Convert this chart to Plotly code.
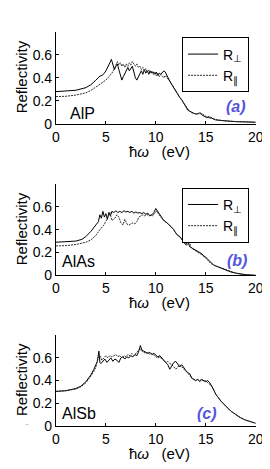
import plotly.graph_objects as go

# ---------------- data ----------------
# Panel (a) AlP
alp_perp_E = [0, 1, 2, 3, 3.5, 4, 4.2, 4.4, 4.6, 4.8, 5.0, 5.2, 5.4, 5.55, 5.7, 5.85, 6.0, 6.15, 6.3, 6.45, 6.6, 6.75, 6.9, 7.05, 7.2, 7.35, 7.5, 7.65, 7.8, 7.95, 8.1, 8.25, 8.4, 8.55, 8.7, 8.85, 9.0, 9.15, 9.3, 9.45, 9.6, 9.75, 9.9, 10.05, 10.2, 10.35, 10.5, 10.65, 10.8, 10.95, 11.1, 11.25, 11.4, 11.6, 11.8, 12.0, 12.2, 12.4, 12.6, 12.8, 13.0, 13.2, 13.4, 13.6, 13.8, 14.0, 14.2, 14.4, 14.6, 14.8, 15.0, 15.3, 15.6, 16, 16.5, 17, 18, 19, 20]
alp_perp_R = [0.28, 0.283, 0.292, 0.315, 0.34, 0.38, 0.40, 0.415, 0.42, 0.435, 0.46, 0.49, 0.53, 0.56, 0.52, 0.47, 0.50, 0.52, 0.47, 0.42, 0.38, 0.41, 0.44, 0.47, 0.49, 0.46, 0.48, 0.50, 0.45, 0.40, 0.38, 0.41, 0.44, 0.46, 0.43, 0.47, 0.44, 0.46, 0.43, 0.46, 0.44, 0.45, 0.43, 0.45, 0.42, 0.44, 0.43, 0.45, 0.46, 0.45, 0.42, 0.40, 0.37, 0.34, 0.31, 0.28, 0.25, 0.23, 0.21, 0.18, 0.15, 0.12, 0.11, 0.10, 0.09, 0.085, 0.09, 0.095, 0.08, 0.07, 0.06, 0.055, 0.05, 0.035, 0.03, 0.025, 0.02, 0.018, 0.015]
alp_par_E = [0, 1, 2, 3, 3.5, 4, 4.5, 5.0, 5.3, 5.6, 5.8, 6.0, 6.15, 6.3, 6.45, 6.6, 6.75, 6.9, 7.05, 7.2, 7.35, 7.5, 7.65, 7.8, 7.95, 8.1, 8.25, 8.4, 8.55, 8.7, 8.85, 9.0, 9.15, 9.3, 9.45, 9.6, 9.75, 9.9, 10.05, 10.2, 10.35, 10.5, 10.65, 10.8, 10.95, 11.1, 11.3, 11.5, 11.7, 11.9, 12.1, 12.3, 12.5, 12.7, 12.9, 13.1, 13.3, 13.5, 13.7, 13.9, 14.1, 14.3, 14.5, 14.7, 14.9, 15.1, 15.3, 15.5, 15.8, 16.2, 17, 18, 19, 20]
alp_par_R = [0.237, 0.24, 0.25, 0.27, 0.29, 0.32, 0.35, 0.38, 0.41, 0.44, 0.47, 0.52, 0.54, 0.51, 0.53, 0.50, 0.52, 0.49, 0.52, 0.50, 0.53, 0.51, 0.54, 0.52, 0.50, 0.52, 0.49, 0.50, 0.47, 0.49, 0.46, 0.48, 0.45, 0.47, 0.44, 0.46, 0.43, 0.45, 0.42, 0.44, 0.41, 0.43, 0.41, 0.40, 0.42, 0.40, 0.38, 0.36, 0.33, 0.30, 0.27, 0.25, 0.22, 0.19, 0.17, 0.14, 0.12, 0.10, 0.095, 0.09, 0.085, 0.09, 0.095, 0.085, 0.07, 0.06, 0.065, 0.06, 0.045, 0.035, 0.025, 0.02, 0.018, 0.015]

# Panel (b) AlAs
alas_perp_E = [0, 1, 2, 2.6, 3.0, 3.5, 3.9, 4.1, 4.25, 4.4, 4.55, 4.7, 4.85, 5.0, 5.15, 5.3, 5.45, 5.6, 5.8, 6.0, 6.2, 6.4, 6.6, 6.8, 7.0, 7.2, 7.4, 7.6, 7.8, 8.0, 8.2, 8.4, 8.6, 8.8, 9.0, 9.2, 9.4, 9.6, 9.8, 10.0, 10.2, 10.4, 10.6, 10.8, 11.0, 11.2, 11.4, 11.6, 11.8, 12.0, 12.2, 12.4, 12.6, 12.8, 13.0, 13.2, 13.4, 13.6, 13.8, 14.0, 14.2, 14.4, 14.6, 14.8, 15.0, 15.2, 15.5, 15.8, 16.2, 16.6, 17, 17.5, 18, 18.5, 19, 19.5, 20]
alas_perp_R = [0.29, 0.292, 0.30, 0.315, 0.34, 0.385, 0.43, 0.45, 0.47, 0.53, 0.50, 0.56, 0.51, 0.54, 0.49, 0.55, 0.52, 0.56, 0.55, 0.565, 0.55, 0.56, 0.55, 0.565, 0.555, 0.56, 0.55, 0.56, 0.545, 0.555, 0.545, 0.55, 0.54, 0.55, 0.535, 0.545, 0.52, 0.53, 0.55, 0.585, 0.56, 0.53, 0.50, 0.48, 0.47, 0.45, 0.44, 0.42, 0.40, 0.37, 0.35, 0.34, 0.31, 0.29, 0.27, 0.30, 0.25, 0.24, 0.23, 0.22, 0.21, 0.20, 0.19, 0.17, 0.16, 0.14, 0.11, 0.09, 0.075, 0.06, 0.045, 0.03, 0.02, 0.012, 0.006, 0.003, 0.0]
alas_par_E = [0, 1, 2, 3, 3.5, 4.0, 4.4, 4.8, 5.1, 5.4, 5.6, 5.9, 6.1, 6.3, 6.5, 6.7, 6.9, 7.1, 7.3, 7.5, 7.7, 7.9, 8.1, 8.3, 8.5, 8.7, 8.9, 9.1, 9.3, 9.5, 9.7, 9.9, 10.1, 10.3, 10.5, 10.7, 10.9, 11.1, 11.3, 11.5, 11.7, 11.9, 12.1, 12.3, 12.5, 12.7, 12.9, 13.1, 13.3, 13.5, 13.7, 13.9, 14.1, 14.3, 14.6, 14.9, 15.2, 15.5, 15.8, 16.1, 16.5, 17, 17.5, 18, 18.5, 19, 19.5, 20]
alas_par_R = [0.258, 0.26, 0.27, 0.29, 0.31, 0.35, 0.40, 0.44, 0.49, 0.55, 0.48, 0.50, 0.53, 0.51, 0.46, 0.44, 0.49, 0.45, 0.44, 0.45, 0.46, 0.45, 0.47, 0.51, 0.52, 0.53, 0.52, 0.535, 0.52, 0.53, 0.52, 0.55, 0.56, 0.53, 0.51, 0.49, 0.47, 0.46, 0.44, 0.43, 0.41, 0.38, 0.36, 0.34, 0.33, 0.30, 0.28, 0.26, 0.32, 0.25, 0.23, 0.22, 0.21, 0.20, 0.18, 0.16, 0.13, 0.105, 0.09, 0.08, 0.07, 0.05, 0.035, 0.02, 0.01, 0.005, 0.002, 0.0]

# Panel (c) AlSb
alsb_perp_E = [0, 1, 2, 2.5, 3.0, 3.5, 3.8, 4.0, 4.15, 4.3, 4.4, 4.5, 4.7, 4.9, 5.1, 5.3, 5.5, 5.7, 5.9, 6.1, 6.3, 6.5, 6.7, 6.9, 7.1, 7.3, 7.5, 7.7, 7.9, 8.1, 8.3, 8.45, 8.6, 8.8, 9.0, 9.2, 9.4, 9.6, 9.8, 10.0, 10.2, 10.4, 10.6, 10.8, 11.0, 11.2, 11.4, 11.6, 11.8, 12.0, 12.2, 12.4, 12.6, 12.8, 13.0, 13.2, 13.4, 13.6, 13.8, 14.0, 14.2, 14.4, 14.6, 14.8, 15.0, 15.2, 15.4, 15.6, 16.0, 16.5, 17, 17.5, 18, 18.5, 19, 19.5, 20]
alsb_perp_R = [0.304, 0.31, 0.33, 0.35, 0.39, 0.45, 0.50, 0.54, 0.57, 0.66, 0.56, 0.55, 0.57, 0.59, 0.56, 0.58, 0.60, 0.57, 0.59, 0.58, 0.56, 0.60, 0.61, 0.59, 0.61, 0.60, 0.62, 0.61, 0.63, 0.62, 0.66, 0.71, 0.67, 0.66, 0.65, 0.64, 0.65, 0.63, 0.64, 0.62, 0.61, 0.62, 0.60, 0.58, 0.57, 0.54, 0.50, 0.53, 0.56, 0.57, 0.55, 0.52, 0.54, 0.51, 0.49, 0.47, 0.46, 0.42, 0.41, 0.40, 0.41, 0.39, 0.41, 0.40, 0.39, 0.40, 0.38, 0.35, 0.28, 0.22, 0.17, 0.13, 0.10, 0.07, 0.05, 0.033, 0.022]
alsb_par_E = [0, 1, 2, 2.5, 3.0, 3.5, 3.8, 4.0, 4.2, 4.4, 4.6, 4.8, 5.0, 5.2, 5.4, 5.6, 5.8, 6.0, 6.2, 6.4, 6.6, 6.8, 7.0, 7.2, 7.4, 7.6, 7.8, 8.0, 8.2, 8.4, 8.6, 8.8, 9.0, 9.2, 9.4, 9.6, 9.8, 10.0, 10.2, 10.4, 10.6, 10.8, 11.0, 11.2, 11.4, 11.6, 11.8, 12.0, 12.2, 12.4, 12.6, 12.8, 13.0, 13.2, 13.4, 13.6, 13.8, 14.0, 14.2, 14.4, 14.6, 14.8, 15.0, 15.2, 15.5, 15.8, 16.0, 16.5, 17, 17.5, 18, 18.5, 19, 19.5, 20]
alsb_par_R = [0.304, 0.31, 0.325, 0.345, 0.38, 0.44, 0.48, 0.52, 0.60, 0.62, 0.58, 0.60, 0.62, 0.60, 0.62, 0.61, 0.62, 0.63, 0.61, 0.62, 0.60, 0.62, 0.61, 0.63, 0.62, 0.64, 0.62, 0.64, 0.66, 0.68, 0.66, 0.65, 0.64, 0.65, 0.63, 0.64, 0.62, 0.61, 0.60, 0.61, 0.59, 0.58, 0.56, 0.57, 0.55, 0.54, 0.52, 0.50, 0.52, 0.54, 0.52, 0.50, 0.48, 0.46, 0.44, 0.42, 0.41, 0.40, 0.41, 0.40, 0.41, 0.39, 0.40, 0.38, 0.36, 0.32, 0.28, 0.22, 0.17, 0.13, 0.10, 0.07, 0.05, 0.033, 0.022]

materials = ["AlP", "AlAs", "AlSb"]
panel_tags = ["(a)", "(b)", "(c)"]
x_ticks = [0, 5, 10, 15, 20]
y_ticks = [0, 0.2, 0.4, 0.6]
y_ticktext = ["0", "0.2", "0.4", "0.6"]
legend_names = ["R<sub>⊥</sub>", "R<sub>∥</sub>"]

# ---------------- layout geometry (pixels) ----------------
W, H = 270, 469
x0px, x1px = 46, 255
panels_px = [(24, 118), (179, 272), (333, 425)]  # top, bottom

def fy(py):
    return 1 - py / H

def fx(px):
    return px / W

FONT = "Arial, 'Liberation Sans', sans-serif"

fig = go.Figure()

series = [
    (alp_perp_E, alp_perp_R, alp_par_E, alp_par_R),
    (alas_perp_E, alas_perp_R, alas_par_E, alas_par_R),
    (alsb_perp_E, alsb_perp_R, alsb_par_E, alsb_par_R),
]

for i, (e1, r1, e2, r2) in enumerate(series):
    xa = "x" if i == 0 else f"x{i+1}"
    ya = "y" if i == 0 else f"y{i+1}"
    leg = "legend" if i == 0 else f"legend{i+1}"
    show = i < 2
    fig.add_trace(go.Scatter(x=e1, y=r1, mode="lines", xaxis=xa, yaxis=ya,
                             line=dict(color="black", width=1),
                             name=legend_names[0], showlegend=show, legend=leg))
    fig.add_trace(go.Scatter(x=e2, y=r2, mode="lines", xaxis=xa, yaxis=ya,
                             line=dict(color="#2a2a2a", width=1, dash="2px,1px"),
                             name=legend_names[1], showlegend=show, legend=leg))

layout = dict(
    width=W, height=H,
    margin=dict(l=0, r=0, t=0, b=0),
    paper_bgcolor="white", plot_bgcolor="white",
    font=dict(family=FONT, size=14, color="black"),
)

annotations = []
for i, (top, bot) in enumerate(panels_px):
    sfx = "" if i == 0 else str(i + 1)
    layout["xaxis" + sfx] = dict(
        domain=[fx(x0px), fx(x1px)], range=[0, 20], anchor="y" + sfx,
        tickvals=x_ticks, ticks="inside", ticklen=3, tickcolor="black",
        showline=True, linecolor="black", linewidth=1, showgrid=False,
        zeroline=False, tickfont=dict(size=14), fixedrange=True,
    )
    layout["yaxis" + sfx] = dict(
        domain=[fy(bot), fy(top)], range=[0, 0.8], anchor="x" + sfx,
        tickvals=y_ticks, ticktext=y_ticktext, ticks="inside", ticklen=3,
        tickcolor="black", showline=True, linecolor="black", linewidth=1,
        showgrid=False, zeroline=False, tickfont=dict(size=14), fixedrange=True,
    )
    mid = (top + bot) / 2
    annotations.append(dict(text="Reflectivity", textangle=-90, x=fx(10), y=fy(mid - 1),
                            xref="paper", yref="paper", showarrow=False,
                            font=dict(size=15), xanchor="center", yanchor="middle"))
    annotations.append(dict(text="ħ<i>ω</i>\u00a0\u00a0\u00a0(eV)", x=fx(154), y=fy(bot + 28),
                            xref="paper", yref="paper", showarrow=False,
                            font=dict(size=15), xanchor="center", yanchor="middle"))

# material labels and panel tags
mat_pos = [(74, 107), (70, 258), (70, 413)]
tag_pos = [(234, 100), (235, 257), (204, 413)]
for i in range(3):
    annotations.append(dict(text=materials[i], x=fx(mat_pos[i][0]), y=fy(mat_pos[i][1]),
                            xref="paper", yref="paper", showarrow=False,
                            font=dict(size=16), xanchor="center", yanchor="middle"))
    annotations.append(dict(text=f"<b><i>{panel_tags[i]}</i></b>", x=fx(tag_pos[i][0]), y=fy(tag_pos[i][1]),
                            xref="paper", yref="paper", showarrow=False,
                            font=dict(size=16, color="#5555dd"), xanchor="center", yanchor="middle"))
annotations.append(dict(text="-", x=fx(12), y=fy(432), xref="paper", yref="paper",
                        showarrow=False, font=dict(size=12, color="#cccccc")))

layout["annotations"] = annotations

leg_common = dict(bgcolor="white", bordercolor="black", borderwidth=1,
                  font=dict(size=14, family=FONT), xanchor="left", yanchor="top",
                  tracegroupgap=0, itemclick=False, itemdoubleclick=False)
layout["legend"] = dict(x=fx(178), y=fy(30), **leg_common)
layout["legend2"] = dict(x=fx(178), y=fy(183), **leg_common)
layout["showlegend"] = True

fig.update_layout(**layout)
fig.write_html("out.html", config={"displayModeBar": False})
